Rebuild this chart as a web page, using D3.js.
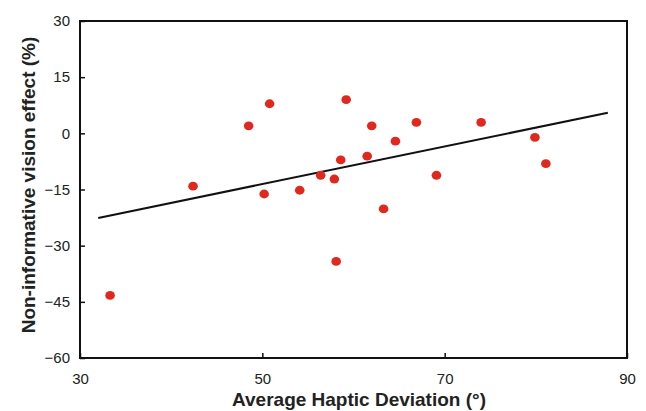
<!DOCTYPE html>
<html>
<head>
<meta charset="utf-8">
<script src="https://cdn.jsdelivr.net/npm/d3@7"></script>
<style>
  body { margin: 0; background: #fff; }
  text { font-family: "Liberation Sans", Arial, sans-serif; }
</style>
</head>
<body>
<div id="chart"></div>
<script>
// Data
const hapticDeviation = [33.3, 42.4, 48.5, 50.2, 50.8, 54.1, 56.4, 57.9, 58.1, 58.6,
                         59.2, 61.5, 62.0, 63.3, 64.6, 66.9, 69.1, 74.0, 79.9, 81.1];
const visionEffect = [-43.3, -14.1, 2.0, -16.2, 7.9, -15.2, -11.2, -12.2, -34.2, -7.1,
                      9.0, -6.1, 2.0, -20.2, -2.1, 2.9, -11.2, 2.9, -1.1, -8.1];
// fitted line end points
const fitX = [32.0, 87.9];
const fitY = [-22.6, 5.5];
const xTicks = [30, 50, 70, 90];
const yTicks = [30, 15, 0, -15, -30, -45, -60];

const width = 646, height = 411;
const margin = { top: 21, right: 19, bottom: 53, left: 80 };

const svg = d3.select("#chart")
    .append("svg")
    .attr("width", width)
    .attr("height", height);

const x = d3.scaleLinear()
    .domain([30, 90])
    .range([margin.left, width - margin.right]);

const y = d3.scaleLinear()
    .domain([-60, 30])
    .range([height - margin.bottom, margin.top]);

// Frame
svg.append("rect")
    .attr("x", x(30))
    .attr("y", y(30))
    .attr("width", x(90) - x(30))
    .attr("height", y(-60) - y(30))
    .attr("fill", "none")
    .attr("stroke", "#111")
    .attr("stroke-width", 2);

// x axis (ticks pointing inward)
const xAxis = svg.append("g")
    .attr("transform", `translate(0,${y(-60)})`)
    .call(d3.axisBottom(x).tickValues(xTicks).tickSizeInner(-5).tickSizeOuter(0).tickPadding(15));
xAxis.select(".domain").remove();
xAxis.selectAll("line").attr("stroke", "#111").attr("stroke-width", 1.5);
xAxis.selectAll("text").attr("font-size", 15).attr("fill", "#222")
    .attr("font-family", "Liberation Sans, Arial, sans-serif");

// y axis
const yAxis = svg.append("g")
    .attr("transform", `translate(${x(30)},0)`)
    .call(d3.axisLeft(y).tickValues(yTicks).tickSizeInner(-5).tickSizeOuter(0).tickPadding(10));
yAxis.select(".domain").remove();
yAxis.selectAll("line").attr("stroke", "#111").attr("stroke-width", 1.5);
yAxis.selectAll("text").attr("font-size", 15).attr("fill", "#222")
    .attr("font-family", "Liberation Sans, Arial, sans-serif");

// Regression line
svg.append("line")
    .attr("x1", x(fitX[0]))
    .attr("y1", y(fitY[0]))
    .attr("x2", x(fitX[1]))
    .attr("y2", y(fitY[1]))
    .attr("stroke", "#111")
    .attr("stroke-width", 2);

// Points
svg.selectAll(".dot")
    .data(d3.range(hapticDeviation.length))
    .enter().append("ellipse")
    .attr("class", "dot")
    .attr("cx", i => x(hapticDeviation[i]))
    .attr("cy", i => y(visionEffect[i]))
    .attr("rx", 4.8)
    .attr("ry", 4.4)
    .attr("fill", "#e0281e");

// Axis titles
svg.append("text")
    .attr("x", 359)
    .attr("y", 406)
    .attr("text-anchor", "middle")
    .attr("font-size", 19)
    .attr("font-weight", "bold")
    .attr("fill", "#222")
    .text("Average Haptic Deviation (°)");

svg.append("text")
    .attr("transform", "translate(35,185) rotate(-90)")
    .attr("text-anchor", "middle")
    .attr("font-size", 19)
    .attr("font-weight", "bold")
    .attr("fill", "#222")
    .text("Non-informative vision effect (%)");
</script>
</body>
</html>
